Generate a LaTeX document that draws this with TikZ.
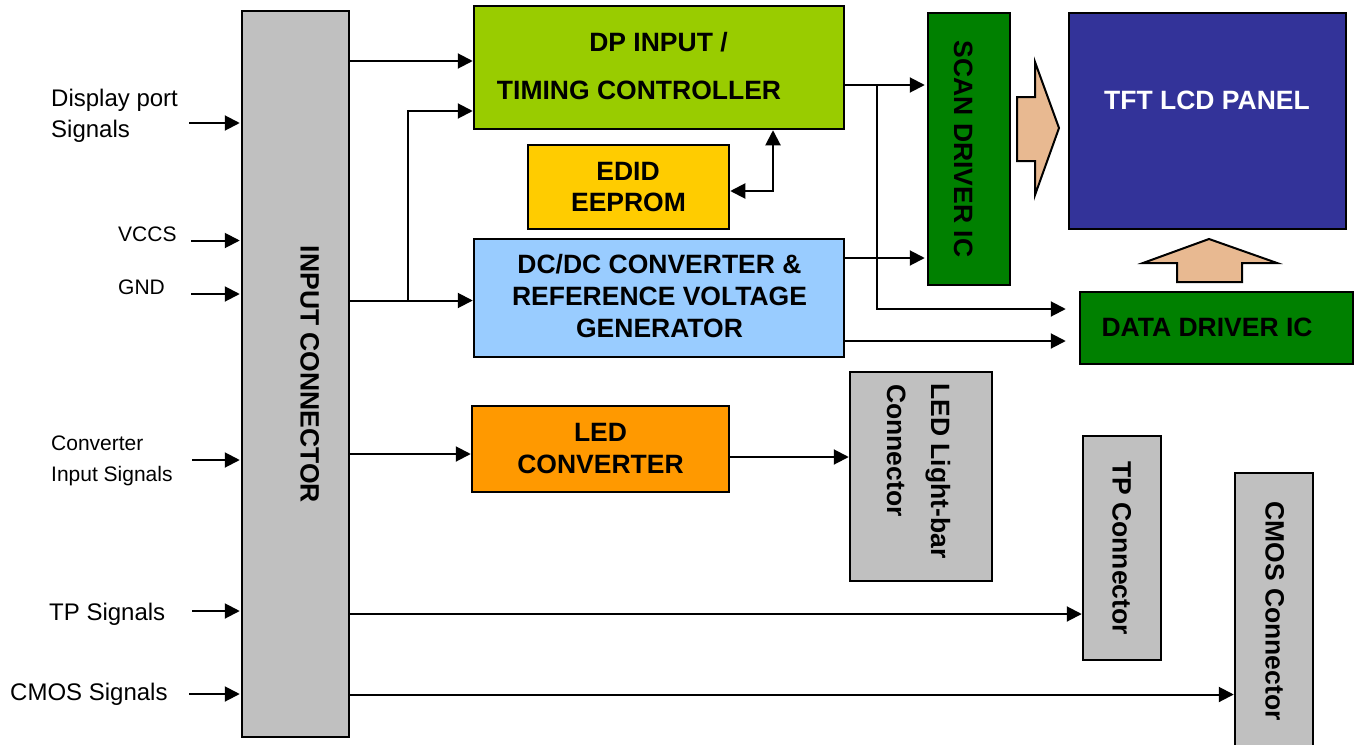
\documentclass[tikz,border=0pt]{standalone}
\usepackage{fontspec}
\setmainfont{Liberation Sans}
\usetikzlibrary{arrows.meta}
\definecolor{cgray}{HTML}{C0C0C0}
\definecolor{cdp}{HTML}{99CC00}
\definecolor{cedid}{HTML}{FFCC00}
\definecolor{cdcdc}{HTML}{99CCFF}
\definecolor{cdrv}{HTML}{008000}
\definecolor{ctft}{HTML}{333399}
\definecolor{cled}{HTML}{FF9900}
\definecolor{cpeach}{HTML}{E8B991}
\begin{document}
\begin{tikzpicture}[x=1pt,y=-1pt,
  blk/.style={draw=black, line width=2.5pt, rectangle, inner sep=0pt},
  btxt/.style={font=\fontsize{26.5}{31.5}\selectfont\bfseries, inner sep=0pt, anchor=base},
  rtxt/.style={font=\fontsize{26.5}{31.5}\selectfont\bfseries, inner sep=0pt, anchor=base, rotate=-90},
  ltxt/.style={font=\fontsize{24}{30}\selectfont, inner sep=0pt, anchor=base west},
  stxt/.style={font=\fontsize{21}{26}\selectfont, inner sep=0pt, anchor=base west},
  arr/.style={line width=2pt, -{Triangle[length=15pt,width=15pt]}},
  darr/.style={line width=2pt, {Triangle[length=15pt,width=15pt]}-{Triangle[length=15pt,width=15pt]}},
  barrow/.style={draw=black, line width=2pt, fill=cpeach, line join=miter}]
\useasboundingbox (0,0) rectangle (1356,744);

% boxes
\node[blk, fill=cgray, minimum width=107pt, minimum height=726pt] (ic) at (295.5,374) {};
\node[blk, fill=cdp, minimum width=370pt, minimum height=123pt] (dp) at (659,67.5) {};
\node[blk, fill=cedid, minimum width=201pt, minimum height=84pt] (edid) at (628.5,187) {};
\node[blk, fill=cdcdc, minimum width=370pt, minimum height=118pt] (dcdc) at (659,298) {};
\node[blk, fill=cdrv, minimum width=82pt, minimum height=272pt] (scan) at (969,149) {};
\node[blk, fill=ctft, minimum width=277pt, minimum height=216pt] (tft) at (1207.5,121) {};
\node[blk, fill=cdrv, minimum width=273pt, minimum height=72pt] (dd) at (1216.5,328) {};
\node[blk, fill=cled, minimum width=257pt, minimum height=86pt] (led) at (600.5,449) {};
\node[blk, fill=cgray, minimum width=142pt, minimum height=209pt] (ledc) at (921,476.5) {};
\node[blk, fill=cgray, minimum width=78pt, minimum height=224pt] (tp) at (1122,548) {};
\node[blk, fill=cgray, minimum width=78pt, minimum height=277pt] (cmos) at (1274,611.5) {};

% box texts
\node[rtxt] (ictext) at (300.5,374.5) {INPUT CONNECTOR};
\node[btxt] (dpt1) at (658.5,51) {DP INPUT /};
\node[btxt] (dpt2) at (639,99) {TIMING CONTROLLER};
\node[btxt] (edt1) at (628,180) {EDID};
\node[btxt] (edt2) at (628.5,211) {EEPROM};
\node[btxt] (dct1) at (659.5,273) {DC/DC CONVERTER \&};
\node[btxt] (dct2) at (659.5,305) {REFERENCE VOLTAGE};
\node[btxt] (dct3) at (659.5,337) {GENERATOR};
\node[rtxt] (scantext) at (954,149) {SCAN DRIVER IC};
\node[btxt, text=white] (tfttext) at (1207,109) {TFT LCD PANEL};
\node[btxt] (ddtext) at (1207,336) {DATA DRIVER IC};
\node[btxt] (ledt1) at (600.5,441) {LED};
\node[btxt] (ledt2) at (600.5,473) {CONVERTER};
\node[rtxt, anchor=base west] (lct1) at (931,383) {LED Light-bar};
\node[rtxt, anchor=base west] (lct2) at (887,384) {Connector};
\node[rtxt] (tptext) at (1112.5,548) {TP Connector};
\node[rtxt] (cmostext) at (1265.5,611) {CMOS Connector};

% left labels
\node[ltxt] (l1a) at (51,106) {Display port};
\node[ltxt] (l1b) at (51,137) {Signals};
\node[stxt] (l2) at (118,241) {VCCS};
\node[stxt] (l3) at (118,294) {GND};
\node[stxt] (l4a) at (51,450) {Converter};
\node[stxt] (l4b) at (51,481) {Input Signals};
\node[ltxt] (l5) at (49,620) {TP Signals};
\node[ltxt] (l6) at (10,700) {CMOS Signals};

% free ends of input arrows
\coordinate (s1) at (189,123);
\coordinate (s2) at (191,240.5);
\coordinate (s3) at (191,294);
\coordinate (s4) at (192,460);
\coordinate (s5) at (192,611);
\coordinate (s6) at (189,694);
\foreach \s in {s1,s2,s3,s4,s5,s6}
  \draw[arr, shorten >=1pt] (\s) -- (\s -| ic.west);

% connectors
\draw[arr] (ic.east |- 0,61) -- (dp.west |- 0,61);
\coordinate (j1) at (408,300.5);
\draw[arr] (ic.east |- j1) -- (dcdc.west |- j1);
\draw[arr] (j1) |- (dp.west |- 0,111);
\coordinate (j2) at (773,191);
\draw[darr] (edid.east |- j2) -| (dp.south -| j2);
\draw[arr, shorten >=2pt] (dp.east |- 0,85) -- (scan.west |- 0,85);
\coordinate (j3) at (877,85);
\draw[arr, shorten >=13pt] (j3) |- (dd.west |- 0,309);
\draw[arr, shorten >=2pt] (dcdc.east |- 0,258) -- (scan.west |- 0,258);
\draw[arr, shorten >=13pt] (dcdc.east |- 0,341) -- (dd.west |- 0,341);
\draw[arr] (ic.east |- 0,454) -- (led.west |- 0,454);
\draw[arr] (led.east |- 0,457) -- (ledc.west |- 0,457);
\draw[arr] (ic.east |- 0,614) -- (tp.west |- 0,614);
\draw[arr] (ic.east |- 0,694.5) -- (cmos.west |- 0,694.5);

% block arrows
\draw[barrow] (1017,97) -- (1035,97) -- (1035,62) -- (1059,128) -- (1035,195) -- (1035,161) -- (1017,161) -- cycle;
\draw[barrow] (1177,282) -- (1177,263) -- (1143,263) -- (1209,239) -- (1277,263) -- (1242,263) -- (1242,282) -- cycle;
\end{tikzpicture}
\end{document}
